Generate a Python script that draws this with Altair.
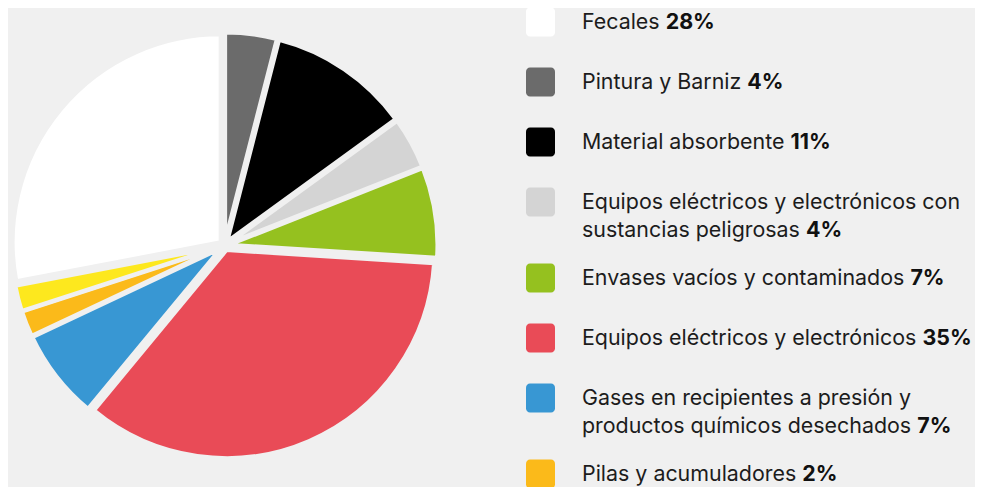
import glob
import altair as alt
import pandas as pd

# ---------------- data ----------------
pie_categories = [
    "Pintura y Barniz",
    "Material absorbente",
    "Equipos eléctricos y electrónicos con sustancias peligrosas",
    "Envases vacíos y contaminados",
    "Equipos eléctricos y electrónicos",
    "Gases en recipientes a presión y productos químicos desechados",
    "Pilas y acumuladores",
    "Otros",
    "Fecales",
]
pie_values = [4, 11, 4, 7, 35, 7, 2, 2, 28]
pie_colors = ["#6b6b6b", "#000000", "#d4d4d4", "#95c11f", "#e94b57",
              "#3897d3", "#fbba1a", "#fde81e", "#ffffff"]

legend_lines = [
    ["Fecales"],
    ["Pintura y Barniz"],
    ["Material absorbente"],
    ["Equipos eléctricos y electrónicos con", "sustancias peligrosas"],
    ["Envases vacíos y contaminados"],
    ["Equipos eléctricos y electrónicos"],
    ["Gases en recipientes a presión y", "productos químicos desechados"],
    ["Pilas y acumuladores"],
]
legend_pcts = ["28%", "4%", "11%", "4%", "7%", "35%", "7%", "2%"]
legend_colors = ["#ffffff", "#6b6b6b", "#000000", "#d4d4d4", "#95c11f",
                 "#e94b57", "#3897d3", "#fbba1a"]

# ---------------- style ----------------
BG = "#f0f0f0"
FONT = "Inter"
FONT_SIZE = 21.4
PIE_W, PIE_H = 433, 475
RADIUS = 208
EXPLODE = 5
SPACING = 85
LEG_W, LEG_H = 449, 485
SLOT_PX = 60.0
FIRST_PX = 14.0
EXTRA_LINE_SLOT = 16.0 / SLOT_PX
LINE_SLOT = 27.5 / SLOT_PX
TEXT_DY = 1.0 / SLOT_PX
TEXT_X = 56
SQ = 29


# ---------------- text measuring ----------------
_fallback = {
    " ": .28, "a": .55, "b": .60, "c": .55, "d": .60, "e": .57, "f": .34,
    "g": .60, "h": .58, "i": .23, "j": .23, "k": .52, "l": .23, "m": .87,
    "n": .58, "o": .59, "p": .60, "q": .60, "r": .36, "s": .52, "t": .35,
    "u": .58, "v": .53, "w": .78, "x": .52, "y": .53, "z": .52, "é": .57,
    "ó": .59, "í": .23, "B": .64, "E": .57, "F": .55, "G": .73, "M": .87,
    "P": .63,
}


def _load_font():
    try:
        from PIL import ImageFont
    except Exception:
        return None
    files = []
    for ext in ("ttf", "otf"):
        files += glob.glob(f"/usr/share/fonts/**/Inter*.{ext}", recursive=True)
        files += glob.glob(f"/usr/local/share/fonts/**/Inter*.{ext}", recursive=True)
    files = [f for f in files if "Italic" not in f and "Display" not in f]
    if not files:
        return None
    pref = [f for f in files if "Regular" in f] or files
    try:
        return ImageFont.truetype(sorted(pref, key=len)[0], 200)
    except Exception:
        return None


_font = _load_font()


def text_width(s, size):
    if _font is not None:
        try:
            return _font.getlength(s) * size / 200.0
        except Exception:
            pass
    return sum(_fallback.get(ch, .56) for ch in s) * size


# ---------------- pie ----------------
pie_df = pd.DataFrame({
    "cat": pie_categories,
    "value": pie_values,
    "order": list(range(len(pie_values))),
})

pie = (
    alt.Chart(pie_df)
    .transform_joinaggregate(total="sum(value)")
    .transform_window(cum="sum(value)", sort=[alt.SortField("order")], frame=[None, 0])
    .transform_calculate(
        mid="(datum.cum - datum.value / 2) / datum.total * 2 * PI",
        ex=f"{EXPLODE} * sin(datum.mid)",
        ey=f"{EXPLODE} * cos(datum.mid)",
    )
    .mark_arc(radius=RADIUS, stroke=BG, strokeWidth=4, strokeJoin="round")
    .encode(
        theta=alt.Theta("value:Q", stack=True),
        order=alt.Order("order:Q"),
        color=alt.Color("cat:N", scale=alt.Scale(domain=pie_categories, range=pie_colors), legend=None),
        x=alt.X("ex:Q", scale=alt.Scale(domain=[-PIE_W / 2, PIE_W / 2], nice=False, zero=False), axis=None),
        y=alt.Y("ey:Q", scale=alt.Scale(domain=[-PIE_H / 2, PIE_H / 2], nice=False, zero=False), axis=None),
    )
    .properties(width=PIE_W, height=PIE_H)
)

# ---------------- legend ----------------
sq_rows, line_rows, pct_rows = [], [], []
p = 0.0
for i, (lines, pct, col) in enumerate(zip(legend_lines, legend_pcts, legend_colors)):
    sq_rows.append({"pos": p, "color": col, "k": i})
    for j, ln in enumerate(lines):
        line_rows.append({"ly": p + TEXT_DY + j * LINE_SLOT, "txt": ln})
    last = lines[-1]
    pct_rows.append({
        "ly": p + TEXT_DY + (len(lines) - 1) * LINE_SLOT,
        "bx": TEXT_X + text_width(last + " ", FONT_SIZE),
        "pct": pct,
    })
    p += 1 + EXTRA_LINE_SLOT * (len(lines) - 1)

y_lo = -FIRST_PX / SLOT_PX
y_hi = y_lo + LEG_H / SLOT_PX
yscale = alt.Scale(domain=[y_lo, y_hi], reverse=True, nice=False, zero=False)

squares = (
    alt.Chart(pd.DataFrame(sq_rows))
    .mark_rect(height=SQ, cornerRadius=4, clip=True)
    .encode(
        x=alt.value(0),
        x2=alt.value(SQ),
        y=alt.Y("pos:Q", scale=yscale, axis=None),
        color=alt.Color("color:N", scale=None, legend=None),
    )
)

labels = (
    alt.Chart(pd.DataFrame(line_rows))
    .mark_text(align="left", baseline="middle", font=FONT, fontSize=FONT_SIZE,
               color="#1c1c1c", clip=True)
    .encode(
        x=alt.value(TEXT_X),
        y=alt.Y("ly:Q", scale=yscale, axis=None),
        text="txt:N",
    )
)

pcts = (
    alt.Chart(pd.DataFrame(pct_rows))
    .mark_text(align="left", baseline="middle", font=FONT, fontSize=FONT_SIZE,
               fontWeight="bold", color="#111111", clip=True)
    .encode(
        x=alt.X("bx:Q", scale=alt.Scale(domain=[0, LEG_W], nice=False, zero=False), axis=None),
        y=alt.Y("ly:Q", scale=yscale, axis=None),
        text="pct:N",
    )
)

legend = alt.layer(squares, labels, pcts).properties(width=LEG_W, height=LEG_H)

chart = (
    alt.hconcat(pie, legend, spacing=SPACING)
    .properties(padding=0, background=BG)
    .configure_view(stroke=None)
)

chart.save("out.html", embed_options={"renderer": "svg", "actions": False})
